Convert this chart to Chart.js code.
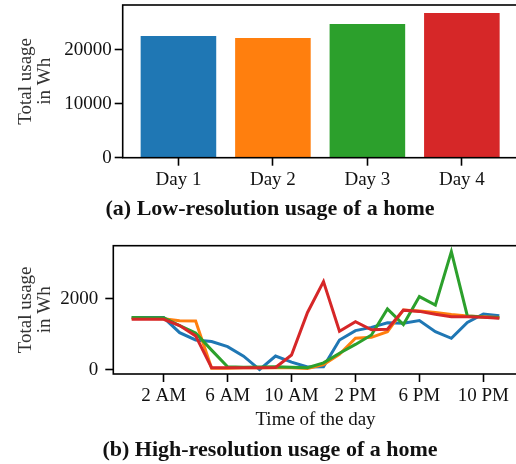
<!DOCTYPE html>
<html>
<head>
<meta charset="utf-8">
<script src="https://cdn.jsdelivr.net/npm/chart.js@4.4.1/dist/chart.umd.min.js"></script>
<style>
  html, body { margin: 0; padding: 0; background: #fff; width: 516px; height: 464px; overflow: hidden; position: relative; }
  canvas { position: absolute; left: 0; }
  #c1 { top: 0; }
  #c2 { top: 220px; }
  .cap { position: absolute; left: 0; width: 540px; text-align: center; font-family: "Liberation Serif", serif; font-weight: bold; font-size: 22px; line-height: 26px; color: #111; white-space: nowrap; }
</style>
</head>
<body>
<canvas id="c1" width="540" height="200"></canvas>
<canvas id="c2" width="540" height="220"></canvas>
<div class="cap" style="top:194.6px">(a) Low-resolution usage of a home</div>
<div class="cap" style="top:435.6px">(b) High-resolution usage of a home</div>
<script>
// ---- data ----
const categories = ['Day 1', 'Day 2', 'Day 3', 'Day 4'];
const dailyTotals = [22540, 22170, 24760, 26800];
const barTicks = [0, 10000, 20000];

const hours = [0, 1, 2, 3, 4, 5, 6, 7, 8, 9, 10, 11, 12, 13, 14, 15, 16, 17, 18, 19, 20, 21, 22, 23];
const day1 = [1480, 1480, 1475, 1050, 845, 800, 657, 390, 10, 394, 220, 85, 90, 845, 1108, 1200, 1330, 1315, 1390, 1080, 892, 1340, 1577, 1530];
const day2 = [1450, 1450, 1440, 1390, 1380, 50, 50, 60, 60, 60, 60, 40, 150, 440, 892, 920, 1080, 1690, 1660, 1620, 1560, 1520, 1500, 1480];
const day3 = [1480, 1470, 1470, 1250, 1040, 560, 90, 80, 85, 90, 80, 65, 200, 470, 720, 986, 1718, 1280, 2066, 1830, 3333, 1521, 1490, 1470];
const day4 = [1430, 1430, 1427, 1250, 960, 66, 66, 66, 66, 70, 423, 1620, 2488, 1090, 1362, 1130, 1146, 1685, 1650, 1570, 1502, 1500, 1484, 1455];
const hourTicks = [2, 6, 10, 14, 18, 22];
const hourTickLabels = ['2 AM', '6 AM', '10 AM', '2 PM', '6 PM', '10 PM'];
const lineTicks = [0, 2000];

const colors = ['#1f77b4', '#ff7f0e', '#2ca02c', '#d62728'];
const FONT = '"Liberation Serif", "Times New Roman", serif';

const frame = {
  id: 'frame',
  afterDraw(chart) {
    const a = chart.chartArea, ctx = chart.ctx;
    ctx.save();
    ctx.strokeStyle = '#000';
    ctx.lineWidth = 1.6;
    ctx.strokeRect(a.left, a.top, a.right - a.left, a.bottom - a.top);
    ctx.restore();
  }
};

function noPad(s) { s.paddingTop = 0; s.paddingBottom = 0; s.paddingLeft = 0; s.paddingRight = 0; }
const tickFont = { family: FONT, size: 19 };
const gridOpts = { display: true, offset: false, drawOnChartArea: false, drawTicks: true, tickLength: 8, tickWidth: 1.6, color: '#000' };

// ---- top: bar chart ----
new Chart(document.getElementById('c1'), {
  type: 'bar',
  data: {
    datasets: [{
      data: dailyTotals.map((v, i) => ({ x: i, y: v })),
      backgroundColor: colors,
      borderWidth: 0,
      categoryPercentage: 1,
      barPercentage: 0.8
    }]
  },
  options: {
    responsive: false, animation: false,
    layout: { padding: { left: 0, top: 5, right: 22.4, bottom: 0 } },
    plugins: { legend: { display: false }, tooltip: { enabled: false } },
    scales: {
      x: {
        type: 'linear', min: -0.59, max: 3.59, offset: false,
        afterBuildTicks: s => { s.ticks = categories.map((c, i) => ({ value: i })); },
        afterFit: s => { s.height = 42.3; noPad(s); },
        ticks: { font: tickFont, color: '#111', padding: 3, autoSkip: false, maxRotation: 0,
                 callback: v => categories[v] },
        grid: gridOpts,
        border: { display: false }
      },
      y: {
        min: 0, max: 28280,
        afterBuildTicks: s => { s.ticks = barTicks.map(v => ({ value: v })); },
        afterFit: s => { s.width = 122.7; noPad(s); },
        ticks: { font: tickFont, color: '#111', padding: 3, callback: v => String(v) },
        grid: gridOpts,
        border: { display: false },
        title: { display: true, text: ['Total usage', 'in Wh'], color: '#333',
                 font: { family: FONT, size: 19, lineHeight: '18.4px' }, padding: { top: 17, bottom: 0 } }
      }
    }
  },
  plugins: [frame]
});

// ---- bottom: line chart ----
const series = [day1, day2, day3, day4];
new Chart(document.getElementById('c2'), {
  type: 'line',
  data: {
    datasets: series.map((d, k) => ({
      data: d.map((v, i) => ({ x: hours[i], y: v })),
      borderColor: colors[k],
      borderWidth: 3,
      pointRadius: 0,
      tension: 0,
      fill: false,
      order: 3 - k
    }))
  },
  options: {
    responsive: false, animation: false,
    layout: { padding: { left: 0, top: 25.7, right: 22.3, bottom: 0 } },
    plugins: { legend: { display: false }, tooltip: { enabled: false } },
    scales: {
      x: {
        type: 'linear', min: -1.15, max: 24.15,
        afterBuildTicks: s => { s.ticks = hourTicks.map(v => ({ value: v })); },
        afterFit: s => { s.height = 66; noPad(s); },
        ticks: { font: tickFont, color: '#111', padding: 3, autoSkip: false, maxRotation: 0,
                 callback: v => hourTickLabels[hourTicks.indexOf(v)] },
        grid: gridOpts,
        border: { display: false },
        title: { display: true, text: 'Time of the day', color: '#111',
                 font: { family: FONT, size: 19 }, padding: { top: 0, bottom: 9 } }
      },
      y: {
        min: -113, max: 3500,
        afterBuildTicks: s => { s.ticks = lineTicks.map(v => ({ value: v })); },
        afterFit: s => { s.width = 113.3; noPad(s); },
        ticks: { font: tickFont, color: '#111', padding: 7, callback: v => String(v) },
        grid: gridOpts,
        border: { display: false },
        title: { display: true, text: ['Total usage', 'in Wh'], color: '#333',
                 font: { family: FONT, size: 19, lineHeight: '18.4px' }, padding: { top: 17, bottom: 0 } }
      }
    }
  },
  plugins: [frame]
});
</script>
</body>
</html>
